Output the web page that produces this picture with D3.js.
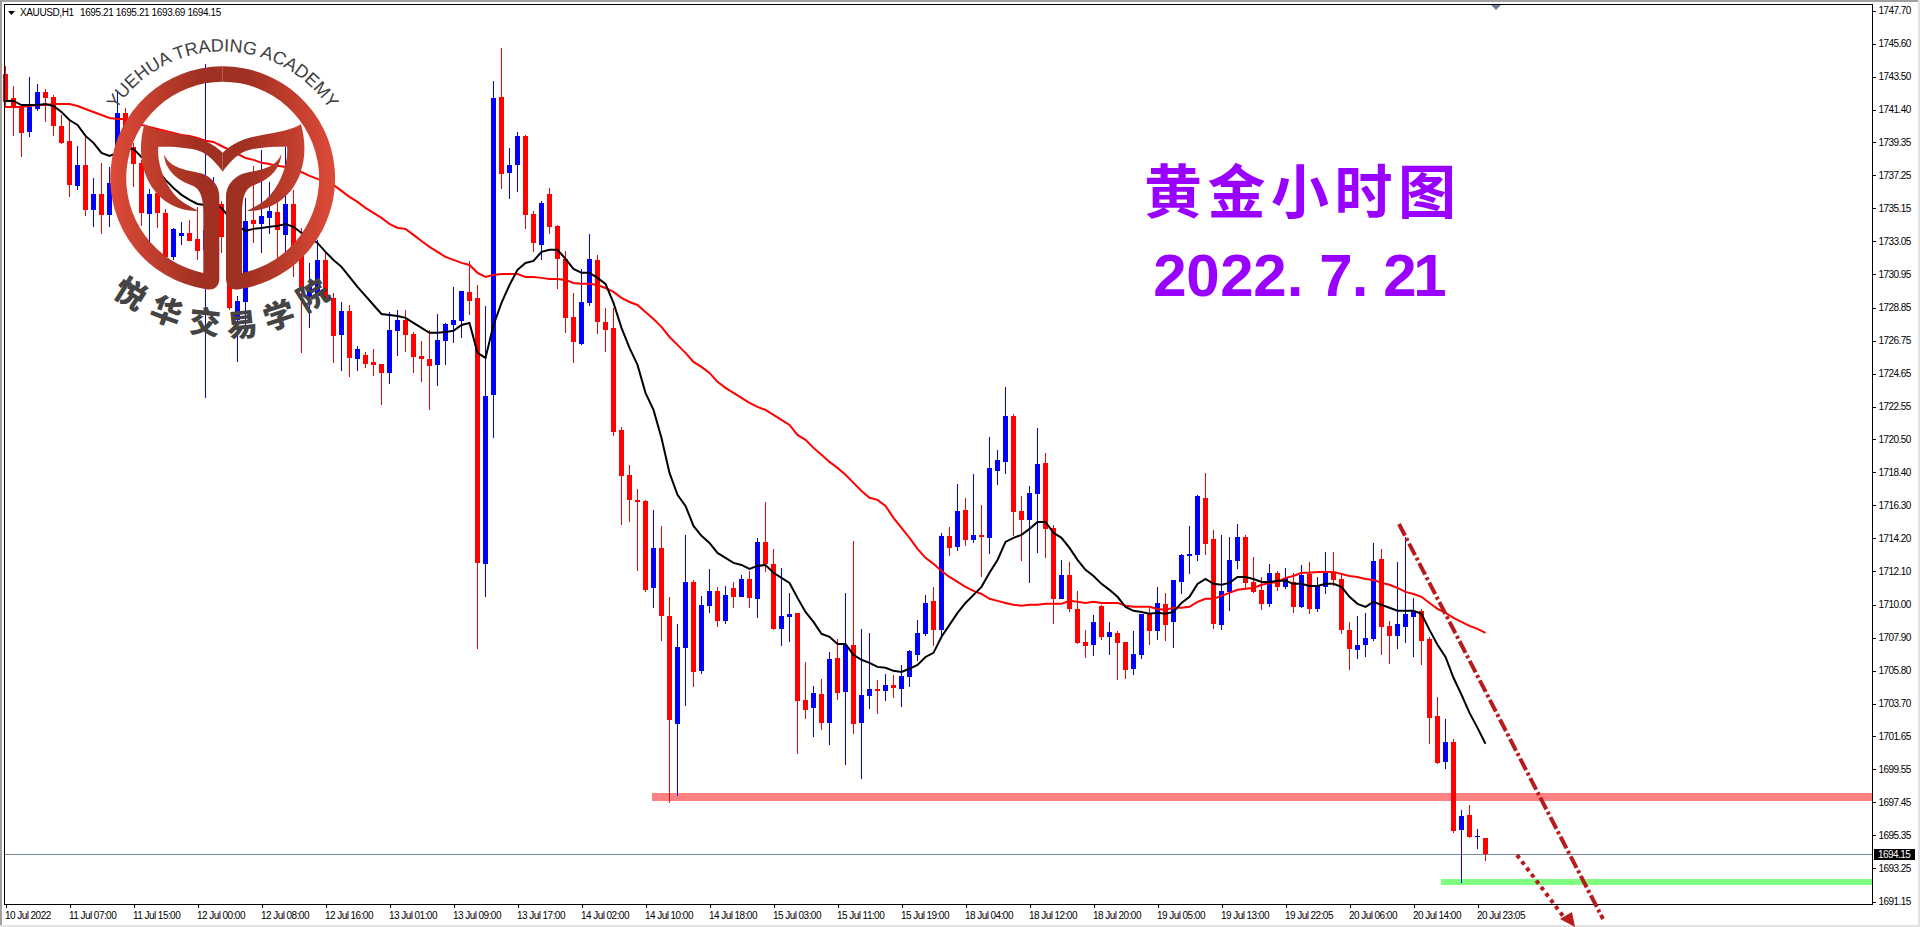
<!DOCTYPE html>
<html>
<head>
<meta charset="utf-8">
<script src="https://cdn.jsdelivr.net/npm/d3@7"></script>
<style>
  html, body { margin: 0; padding: 0; background: #fff; overflow: hidden; }
  svg { display: block; }
  .axis text { font-family: "Liberation Sans", sans-serif; font-size: 10px; letter-spacing: -0.55px; fill: #000; }
  .info { font-family: "Liberation Sans", sans-serif; font-size: 10px; letter-spacing: -0.39px; fill: #000; }
  .axis path, .axis line { stroke: #000; shape-rendering: crispEdges; }
</style>
</head>
<body>
<div id="chart"></div>
<script>
// hourly candles, oldest first
const opens = [1743.68,1742.15,1741.64,1739.99,1741.45,1742.53,1742.21,1740.37,1739.43,1736.57,1737.90,1735.05,1736.06,1734.73,1736.76,1741.20,1739.04,1738.03,1734.79,1736.12,1734.85,1732.06,1733.39,1733.58,1733.20,1732.51,1733.77,1735.42,1733.33,1728.06,1729.20,1734.41,1734.15,1734.54,1734.92,1733.46,1735.42,1732.19,1729.52,1729.59,1731.87,1729.46,1727.11,1728.63,1725.59,1725.84,1725.40,1725.27,1724.70,1727.37,1728.06,1727.17,1725.78,1725.59,1725.21,1726.73,1727.74,1728.00,1729.84,1729.46,1712.58,1723.30,1742.21,1737.39,1737.90,1739.74,1734.79,1732.82,1736.06,1734.03,1731.94,1728.25,1726.54,1729.14,1731.87,1727.93,1727.56,1721.08,1718.23,1716.64,1716.58,1711.05,1713.59,1709.28,1702.42,1707.25,1711.43,1705.79,1709.92,1710.86,1708.96,1711.05,1710.49,1711.62,1710.36,1713.97,1712.58,1708.45,1709.22,1709.47,1703.95,1703.44,1704.33,1702.49,1706.61,1704.46,1707.44,1702.49,1704.20,1704.65,1704.52,1704.90,1704.65,1705.41,1706.80,1708.14,1710.23,1708.39,1714.36,1713.66,1716.00,1714.10,1714.42,1714.23,1718.48,1719.05,1721.97,1715.94,1715.37,1717.02,1718.99,1714.86,1710.36,1711.88,1709.72,1707.63,1707.44,1709.92,1707.95,1708.20,1707.63,1705.92,1706.80,1709.41,1708.33,1710.04,1708.90,1711.43,1713.09,1713.15,1716.77,1714.17,1708.71,1710.80,1712.77,1714.29,1711.43,1710.93,1710.04,1712.01,1711.12,1711.43,1709.85,1711.94,1709.72,1711.12,1712.07,1711.62,1708.39,1707.12,1707.44,1707.82,1712.89,1708.64,1708.01,1708.58,1709.22,1709.60,1707.82,1702.93,1700.02,1701.28,1695.70,1696.65,1695.26,1695.21];
const highs = [1744.18,1742.92,1741.70,1743.49,1743.04,1742.72,1742.34,1741.07,1740.75,1739.10,1739.68,1737.07,1738.03,1737.77,1742.53,1741.51,1739.30,1738.22,1736.38,1736.57,1735.11,1733.90,1734.28,1734.41,1735.24,1744.31,1737.14,1735.61,1733.58,1729.59,1735.81,1737.84,1738.85,1736.82,1736.31,1739.04,1736.31,1733.90,1731.68,1733.14,1732.38,1729.78,1729.20,1729.01,1726.41,1726.03,1726.22,1725.27,1728.57,1728.70,1728.70,1727.30,1726.73,1727.43,1728.44,1727.87,1730.16,1729.90,1731.81,1730.28,1728.95,1743.23,1745.32,1738.98,1739.99,1739.80,1734.98,1735.61,1736.44,1734.09,1732.44,1729.78,1731.30,1733.52,1732.19,1728.82,1728.82,1721.27,1718.86,1717.34,1716.64,1716.00,1714.99,1710.49,1708.77,1714.42,1711.56,1710.55,1712.26,1711.12,1711.18,1711.43,1711.88,1712.13,1714.23,1716.51,1713.53,1712.32,1710.74,1709.47,1706.36,1704.84,1705.28,1706.99,1707.82,1710.74,1714.04,1708.45,1708.20,1705.22,1705.60,1705.53,1706.17,1707.12,1709.02,1710.61,1711.12,1714.55,1714.93,1717.65,1716.77,1718.29,1716.32,1720.64,1719.81,1723.81,1722.10,1716.89,1717.52,1721.21,1719.62,1715.05,1712.83,1712.70,1710.86,1708.39,1709.34,1709.98,1708.90,1708.33,1707.63,1708.33,1709.41,1709.79,1711.12,1710.74,1711.56,1713.21,1714.99,1716.96,1718.35,1714.74,1714.42,1714.29,1715.12,1714.42,1713.02,1711.75,1712.58,1712.13,1712.32,1712.01,1712.51,1712.70,1711.75,1713.34,1713.34,1711.88,1708.90,1709.28,1709.47,1713.91,1713.53,1708.96,1712.70,1714.29,1710.42,1709.72,1707.95,1704.14,1702.74,1701.47,1696.97,1697.28,1695.76,1695.21];
const lows = [1741.51,1739.74,1738.41,1739.68,1741.32,1740.62,1739.74,1739.23,1735.87,1736.31,1734.67,1733.97,1733.52,1733.97,1736.31,1738.53,1736.50,1734.03,1732.95,1733.90,1732.00,1731.87,1732.82,1733.07,1731.87,1723.12,1733.39,1732.32,1728.70,1725.40,1727.24,1732.95,1732.32,1733.52,1731.87,1732.32,1730.79,1725.97,1727.56,1728.89,1729.33,1725.33,1724.82,1724.44,1724.82,1725.02,1724.51,1722.67,1724.00,1725.78,1726.03,1724.70,1724.13,1722.35,1723.87,1725.21,1726.60,1726.92,1728.38,1707.18,1710.49,1720.57,1736.38,1735.74,1736.19,1733.84,1732.38,1731.87,1733.52,1730.03,1727.24,1725.33,1726.48,1728.95,1727.17,1726.03,1720.70,1715.05,1715.24,1712.13,1710.80,1709.79,1707.69,1697.41,1697.85,1703.57,1704.77,1705.60,1709.47,1708.58,1708.77,1709.79,1710.49,1709.79,1709.15,1712.07,1708.39,1707.37,1707.63,1700.52,1702.74,1701.60,1702.04,1701.09,1703.95,1699.82,1701.79,1698.93,1703.38,1703.06,1703.88,1704.08,1703.50,1704.77,1706.42,1708.01,1707.37,1708.01,1713.09,1713.40,1713.72,1713.91,1711.75,1713.21,1717.59,1718.29,1714.36,1712.77,1711.37,1713.27,1712.96,1708.77,1710.36,1709.53,1707.50,1706.61,1706.74,1707.76,1706.80,1705.22,1705.28,1705.53,1706.55,1707.44,1707.76,1707.69,1707.25,1710.67,1711.94,1712.77,1713.15,1708.45,1708.39,1709.60,1712.26,1710.93,1710.74,1709.66,1709.85,1710.86,1711.00,1709.47,1709.79,1709.41,1709.53,1710.67,1711.18,1708.14,1705.85,1706.55,1706.67,1707.69,1706.80,1706.23,1707.18,1707.56,1706.67,1706.17,1701.16,1699.89,1699.57,1695.51,1692.33,1695.19,1694.49,1693.69];
const closes = [1741.89,1741.51,1739.93,1741.58,1742.53,1742.15,1740.37,1739.30,1736.63,1737.90,1735.05,1736.06,1734.73,1736.76,1741.20,1739.04,1737.97,1734.85,1736.06,1734.85,1732.06,1733.84,1733.58,1733.07,1732.44,1733.77,1734.92,1733.33,1728.82,1729.27,1734.35,1734.15,1734.67,1734.98,1733.77,1735.42,1732.06,1729.97,1730.16,1731.87,1729.46,1727.05,1728.63,1725.65,1726.22,1725.27,1725.21,1724.70,1727.43,1728.06,1727.11,1725.72,1725.59,1725.14,1726.79,1727.81,1728.06,1729.90,1729.27,1712.64,1723.24,1742.15,1737.33,1737.90,1739.74,1734.73,1732.95,1735.49,1733.97,1731.94,1728.19,1726.67,1729.20,1731.94,1727.93,1727.43,1720.96,1718.16,1716.64,1716.51,1710.93,1713.59,1709.28,1702.68,1707.31,1711.43,1705.72,1709.98,1710.86,1708.96,1710.61,1710.49,1711.62,1710.42,1713.97,1712.58,1708.45,1709.28,1709.41,1703.88,1703.31,1704.39,1702.49,1706.55,1704.39,1707.44,1702.42,1704.27,1704.65,1704.52,1704.90,1704.71,1705.47,1707.06,1708.20,1710.10,1708.39,1714.36,1713.59,1715.94,1714.10,1714.42,1714.29,1718.67,1719.18,1721.97,1715.88,1715.37,1717.09,1718.92,1714.80,1710.36,1711.88,1709.72,1707.56,1707.37,1708.90,1707.95,1708.26,1707.56,1705.85,1706.87,1709.41,1708.33,1710.10,1708.71,1711.56,1713.15,1713.21,1716.89,1713.85,1708.77,1710.86,1712.83,1714.29,1711.37,1710.80,1710.04,1712.01,1711.12,1711.69,1709.85,1711.88,1709.72,1711.18,1712.01,1711.56,1708.39,1707.18,1707.44,1707.88,1712.77,1708.58,1708.01,1708.77,1709.41,1709.60,1707.69,1702.81,1699.95,1701.28,1695.63,1696.59,1695.26,1695.32,1694.15];

// the two moving averages, one value per candle
const fastMa = [1741.96,1741.96,1741.70,1741.70,1741.70,1741.77,1741.64,1741.26,1740.75,1740.44,1739.74,1739.30,1738.66,1738.47,1738.66,1738.91,1738.91,1738.41,1738.03,1737.58,1736.95,1736.44,1736.00,1735.68,1735.42,1735.36,1735.36,1735.17,1734.54,1734.03,1733.71,1733.84,1733.90,1733.97,1734.03,1734.15,1733.97,1733.58,1733.27,1732.95,1732.38,1731.87,1731.43,1730.79,1730.16,1729.59,1729.01,1728.44,1728.38,1728.31,1728.19,1727.87,1727.56,1727.24,1727.24,1727.30,1727.37,1727.74,1727.87,1725.97,1725.65,1727.74,1729.14,1730.28,1731.24,1731.68,1731.81,1732.38,1732.51,1732.51,1731.94,1731.30,1731.05,1731.05,1730.73,1730.35,1729.14,1727.56,1726.29,1725.21,1723.43,1722.35,1720.57,1718.35,1716.96,1716.26,1714.99,1714.36,1713.91,1713.27,1712.96,1712.64,1712.51,1712.26,1712.45,1712.51,1712.01,1711.69,1711.37,1710.42,1709.53,1708.90,1708.14,1707.95,1707.50,1707.50,1706.80,1706.49,1706.30,1706.04,1705.98,1705.79,1705.72,1705.92,1706.17,1706.67,1706.93,1707.95,1708.71,1709.47,1710.10,1710.61,1711.12,1712.01,1712.83,1713.97,1714.23,1714.42,1714.80,1715.24,1715.24,1714.55,1714.23,1713.59,1712.83,1712.20,1711.81,1711.31,1710.93,1710.49,1709.85,1709.60,1709.53,1709.41,1709.47,1709.41,1709.53,1710.10,1710.49,1711.31,1711.62,1711.31,1711.25,1711.37,1711.75,1711.75,1711.62,1711.43,1711.43,1711.50,1711.50,1711.31,1711.31,1711.18,1711.18,1711.31,1711.31,1711.12,1710.49,1710.04,1709.85,1710.17,1709.98,1709.79,1709.60,1709.60,1709.60,1709.41,1708.39,1707.44,1706.67,1705.35,1704.27,1703.12,1702.17,1701.16];
const slowMa = [1741.58,1741.58,1741.58,1741.64,1741.70,1741.70,1741.77,1741.77,1741.77,1741.64,1741.45,1741.26,1741.07,1740.88,1740.81,1740.81,1740.62,1740.44,1740.31,1740.18,1740.06,1739.93,1739.80,1739.74,1739.61,1739.43,1739.36,1739.10,1738.85,1738.60,1738.34,1738.22,1738.03,1737.96,1737.84,1737.77,1737.58,1737.45,1737.20,1737.01,1736.82,1736.63,1736.25,1735.87,1735.55,1735.17,1734.85,1734.54,1734.15,1733.90,1733.84,1733.46,1733.07,1732.70,1732.38,1732.06,1731.87,1731.68,1731.55,1731.05,1730.79,1730.92,1730.98,1730.98,1730.98,1730.79,1730.79,1730.73,1730.66,1730.66,1730.60,1730.41,1730.35,1730.35,1730.28,1730.09,1729.84,1729.46,1729.20,1729.01,1728.57,1728.12,1727.62,1726.98,1726.48,1725.97,1725.40,1725.08,1724.70,1724.13,1723.75,1723.43,1723.11,1722.80,1722.54,1722.35,1722.03,1721.72,1721.40,1720.76,1720.45,1719.94,1719.50,1719.05,1718.67,1718.23,1717.72,1717.21,1716.77,1716.64,1716.26,1715.50,1714.86,1714.23,1713.53,1712.96,1712.58,1712.13,1711.75,1711.43,1711.12,1710.86,1710.67,1710.36,1710.23,1710.10,1709.98,1709.92,1709.98,1709.98,1710.04,1710.04,1710.04,1710.23,1710.17,1710.10,1710.17,1710.10,1710.10,1710.10,1709.92,1709.85,1709.85,1709.85,1709.72,1709.66,1709.79,1709.79,1709.85,1710.17,1710.36,1710.36,1710.55,1710.74,1710.93,1711.00,1711.05,1711.25,1711.37,1711.43,1711.69,1711.81,1712.01,1712.01,1712.07,1712.07,1712.07,1711.94,1711.81,1711.75,1711.62,1711.56,1711.37,1711.25,1711.05,1710.80,1710.67,1710.49,1710.10,1709.72,1709.47,1709.15,1708.90,1708.64,1708.45,1708.20];

// axis labels
const priceTicks = [1747.70,1745.60,1743.50,1741.40,1739.35,1737.25,1735.15,1733.05,1730.95,1728.85,1726.75,1724.65,1722.55,1720.50,1718.40,1716.30,1714.20,1712.10,1710.00,1707.90,1705.80,1703.70,1701.65,1699.55,1697.45,1695.35,1693.25,1691.15];
const timeTicks = ["10 Jul 2022","11 Jul 07:00","11 Jul 15:00","12 Jul 00:00","12 Jul 08:00","12 Jul 16:00","13 Jul 01:00","13 Jul 09:00","13 Jul 17:00","14 Jul 02:00","14 Jul 10:00","14 Jul 18:00","15 Jul 03:00","15 Jul 11:00","15 Jul 19:00","18 Jul 04:00","18 Jul 12:00","18 Jul 20:00","19 Jul 05:00","19 Jul 13:00","19 Jul 22:05","20 Jul 06:00","20 Jul 14:00","20 Jul 23:05"];

// hand drawn levels on the chart
const resistance = [1698.05, 1697.54];
const support = [1692.59, 1692.21];
const lastPrice = 1694.15;

const W = 1920, H = 927;
const svg = d3.select("#chart").append("svg").attr("width", W).attr("height", H);

const X_SCALE = d3.scaleLinear().domain([0, opens.length - 1]).range([5.5, 1485.5]);
const Y_SCALE = d3.scaleLinear().domain([1747.70, 1691.15]).range([10.5, 901.5]);

// window edges
svg.append("rect").attr("width", W).attr("height", 2).attr("fill", "#a0a0a0");
svg.append("rect").attr("width", 2).attr("height", H).attr("fill", "#a0a0a0");
svg.append("rect").attr("y", 925).attr("width", W).attr("height", 2).attr("fill", "#e3e3e3");
svg.append("rect").attr("x", 1918).attr("width", 2).attr("height", H).attr("fill", "#e3e3e3");

// levels sit behind the candles
svg.append("rect")
    .attr("x", 652).attr("width", 1220)
    .attr("y", Y_SCALE(resistance[0]))
    .attr("height", Y_SCALE(resistance[1]) - Y_SCALE(resistance[0]))
    .attr("fill", "#ff8080").attr("shape-rendering", "crispEdges");
svg.append("rect")
    .attr("x", 1441).attr("width", 431)
    .attr("y", Y_SCALE(support[0]))
    .attr("height", Y_SCALE(support[1]) - Y_SCALE(support[0]))
    .attr("fill", "#80ff80").attr("shape-rendering", "crispEdges");

// last price line
svg.append("line")
    .attr("x1", 4).attr("x2", 1872)
    .attr("y1", Math.round(Y_SCALE(lastPrice)) + 0.5).attr("y2", Math.round(Y_SCALE(lastPrice)) + 0.5)
    .attr("stroke", "#778899").attr("shape-rendering", "crispEdges");

// candles
const bars = d3.range(opens.length);
const color = i => closes[i] >= opens[i] ? "#0000ff" : "#ff0000";
const candles = svg.append("g").attr("shape-rendering", "crispEdges");
candles.selectAll("line").data(bars).enter().append("line")
    .attr("x1", i => X_SCALE(i)).attr("x2", i => X_SCALE(i))
    .attr("y1", i => Y_SCALE(highs[i])).attr("y2", i => Y_SCALE(lows[i]))
    .attr("stroke", color);
candles.selectAll("rect").data(bars).enter().append("rect")
    .attr("x", i => X_SCALE(i) - 2.5)
    .attr("width", 5)
    .attr("y", i => Y_SCALE(Math.max(opens[i], closes[i])))
    .attr("height", i => Math.max(1, Math.abs(Y_SCALE(opens[i]) - Y_SCALE(closes[i]))))
    .attr("fill", color);

// moving averages
const lineOf = values => d3.line().x((d, i) => X_SCALE(i)).y(d => Y_SCALE(d))(values);
svg.append("path").attr("d", lineOf(slowMa)).attr("fill", "none").attr("stroke", "#ff0000").attr("stroke-width", 2);
svg.append("path").attr("d", lineOf(fastMa)).attr("fill", "none").attr("stroke", "#000").attr("stroke-width", 2);

// chart frame and axes
svg.append("rect").attr("x", 4.5).attr("y", 4.5).attr("width", 1868).attr("height", 900)
    .attr("fill", "none").attr("stroke", "#000").attr("shape-rendering", "crispEdges");

const yAxis = svg.append("g").attr("class", "axis")
    .attr("transform", "translate(1872.5,0)")
    .call(d3.axisRight(Y_SCALE).tickValues(priceTicks).tickFormat(d3.format(".2f")).tickSize(3).tickPadding(3).tickSizeOuter(0));
yAxis.select(".domain").remove();

const xAxis = svg.append("g").attr("class", "axis")
    .attr("transform", "translate(0,904.5)")
    .call(d3.axisBottom(X_SCALE).tickValues(timeTicks.map((d, i) => i * 8)).tickFormat((d, i) => timeTicks[i]).tickSize(3).tickSizeOuter(0));
xAxis.select(".domain").remove();
xAxis.selectAll("text").attr("text-anchor", "start").attr("x", -1).attr("y", 7);

// last price tag
svg.append("rect").attr("x", 1874).attr("y", 849).attr("width", 41).attr("height", 11).attr("fill", "#000");
svg.append("text").attr("class", "info").attr("x", 1878).attr("y", 858).style("letter-spacing", "-0.55px").style("fill", "#fff").text("1694.15");

// top left info
svg.append("path").attr("d", "M8 11 L15 11 L11.5 15 Z").attr("fill", "#000");
svg.append("text").attr("class", "info").attr("x", 20).attr("y", 16).text("XAUUSD,H1");
svg.append("text").attr("class", "info").attr("x", 80).attr("y", 16).text("1695.21 1695.21 1693.69 1694.15");

// chart shift marker
svg.append("path").attr("d", "M1491 5 L1501 5 L1496 10 Z").attr("fill", "#708090");

// title
const titleChars = Array.from("黄金小时图");
svg.selectAll(".title").data(titleChars).enter().append("text").attr("class", "title")
    .attr("x", (d, i) => 1173 + i * 63.5).attr("y", 213)
    .attr("text-anchor", "middle")
    .attr("font-family", "Noto Sans CJK SC").attr("font-weight", 700).attr("font-size", "58px")
    .attr("fill", "#9900ff").text(d => d);
const dateChars = Array.from("2022.7.21");
const dateX = [1170, 1203, 1237, 1270, 1295, 1336, 1360, 1400, 1430];
svg.selectAll(".date").data(dateChars).enter().append("text").attr("class", "date")
    .attr("x", (d, i) => dateX[i]).attr("y", 296)
    .attr("text-anchor", "middle")
    .attr("font-family", "Liberation Sans").attr("font-weight", 700).attr("font-size", "60px")
    .attr("fill", "#9900ff").text(d => d);

// trend lines
svg.append("line").attr("x1", 1399).attr("y1", 524).attr("x2", 1603).attr("y2", 919)
    .attr("stroke", "#b71c1c").attr("stroke-width", 4).attr("stroke-dasharray", "13 3 3 3");
svg.append("line").attr("x1", 1517).attr("y1", 855).attr("x2", 1563).attr("y2", 916)
    .attr("stroke", "#b71c1c").attr("stroke-width", 4).attr("stroke-dasharray", "4 4");
svg.append("path").attr("d", "M1560 919 L1572 912 L1575 927 Z").attr("fill", "#b71c1c");

// academy logo, drawn on its own 3x grid
const defs = svg.append("defs");
const grad = defs.append("linearGradient").attr("id", "logoGrad").attr("gradientUnits", "userSpaceOnUse")
    .attr("x1", 62).attr("x2", 734).attr("y1", 0).attr("y2", 0);
grad.append("stop").attr("offset", "0%").attr("stop-color", "#dd4a38");
grad.append("stop").attr("offset", "40%").attr("stop-color", "#a03022");
grad.append("stop").attr("offset", "60%").attr("stop-color", "#a03022");
grad.append("stop").attr("offset", "100%").attr("stop-color", "#dd4a38");

const logo = svg.append("g").attr("transform", "translate(90,30) scale(0.33333)");
const ringHalf = "M398 109 A336 336 0 0 0 345 777 C372 784 388 770 388 745 L388 500 C388 470 370 445 340 432 C300 420 240 420 222 372 C225 420 260 450 310 468 C330 478 340 500 340 550 L340 729 A290 290 0 0 1 398 155 Z";
const leafHalf = "M163 283 C220 315 300 310 350 335 C375 347 390 360 398 368 L398 425 C375 395 350 365 310 358 C270 350 240 350 205 350 C200 400 225 470 270 510 C290 525 310 535 325 543 C250 545 190 500 165 430 C148 380 150 330 163 283 Z";
[ringHalf, leafHalf].forEach(p => {
    logo.append("path").attr("d", p).attr("fill", "url(#logoGrad)");
    logo.append("path").attr("d", p).attr("fill", "url(#logoGrad)").attr("transform", "translate(796,0) scale(-1,1)");
});

defs.append("path").attr("id", "logoArc").attr("d", "M 103.4 134.9 A 127 127 0 0 1 342 134.9");
svg.append("text").attr("font-family", "Liberation Sans").attr("font-size", "18px").attr("fill", "#404040")
    .append("textPath").attr("href", "#logoArc").attr("startOffset", "50%").attr("text-anchor", "middle")
    .text("YUEHUA TRADING ACADEMY");

const logoChars = Array.from("悦华交易学院");
const logoRot = [32, 20, 6, -6, -18, -32];
const logoX = [131.7, 167.3, 205, 241.7, 278.3, 311.7];
const logoY = [291.7, 309.3, 320, 322.7, 313.3, 293.3];
svg.selectAll(".logochar").data(logoChars).enter().append("text").attr("class", "logochar")
    .attr("transform", (d, i) => "translate(" + logoX[i] + "," + logoY[i] + ") rotate(" + logoRot[i] + ")")
    .attr("text-anchor", "middle").attr("dominant-baseline", "central")
    .attr("font-family", "Noto Sans CJK SC").attr("font-weight", 900).attr("font-size", "31px")
    .attr("fill", "#444").text(d => d);
</script>
</body>
</html>
